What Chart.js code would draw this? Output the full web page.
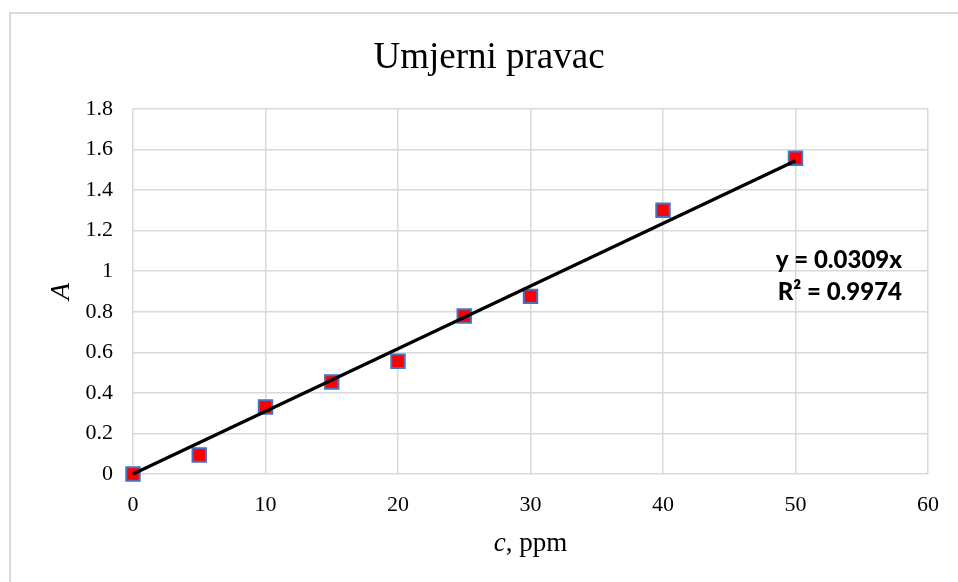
<!DOCTYPE html>
<html><head><meta charset="utf-8">
<script src="https://cdn.jsdelivr.net/npm/chart.js@4"></script>
<style>html,body{margin:0;padding:0;background:#fff;overflow:hidden}#wrap{width:958px;height:582px;position:relative}</style>
</head><body><div id="wrap"><canvas id="c" width="958" height="582"></canvas></div>
<script>
const concentration = [0, 5, 10, 15, 20, 25, 30, 40, 50];
const absorbance = [0, 0.094, 0.33, 0.454, 0.556, 0.779, 0.876, 1.301, 1.557];
const trendX = [0, 50];
const trendY = [0, 1.545];
const chartTitle = 'Umjerni pravac';
const equationLines = ['y = 0.0309x', 'R² = 0.9974'];
const xTitleItalic = 'c';
const xTitleRest = ', ppm';
const yTitle = 'A';

const serif = '"Liberation Serif", "Times New Roman", serif';
const eqFont = '900 24px Lato, "Liberation Sans", sans-serif';

const decor = {
  id: 'decor',
  afterDraw(chart) {
    const ctx = chart.ctx, a = chart.chartArea;
    ctx.save();
    // outer frame (cropped at right and bottom)
    ctx.strokeStyle = '#d9d9d9'; ctx.lineWidth = 2;
    ctx.beginPath();
    ctx.moveTo(10, chart.height); ctx.lineTo(10, 13); ctx.lineTo(chart.width, 13);
    ctx.stroke();
    // title
    ctx.fillStyle = '#000';
    ctx.textAlign = 'center'; ctx.textBaseline = 'alphabetic';
    ctx.font = '37px ' + serif;
    ctx.fillText(chartTitle, 489, 68);
    // x title
    ctx.font = 'italic 27px ' + serif;
    const w1 = ctx.measureText(xTitleItalic).width;
    ctx.font = '27px ' + serif;
    const w2 = ctx.measureText(xTitleRest).width;
    const x0 = (a.left + a.right) / 2 - (w1 + w2) / 2;
    ctx.textAlign = 'left';
    ctx.font = 'italic 27px ' + serif;
    ctx.fillText(xTitleItalic, x0, 551);
    ctx.font = '27px ' + serif;
    ctx.fillText(xTitleRest, x0 + w1, 551);
    // y title
    ctx.save();
    ctx.translate(69, (a.top + a.bottom) / 2);
    ctx.rotate(-Math.PI / 2);
    ctx.textAlign = 'center';
    ctx.font = 'italic 28px ' + serif;
    ctx.fillText(yTitle, 0, 0);
    ctx.restore();
    // equation
    ctx.textAlign = 'right';
    ctx.font = eqFont;
    ctx.fillText(equationLines[0], 902, 268);
    ctx.fillText(equationLines[1], 902, 300);
    ctx.restore();
  }
};

new Chart(document.getElementById('c'), {
  type: 'scatter',
  data: {
    datasets: [
      {
        label: 'Trend',
        type: 'line',
        data: trendX.map((x, i) => ({x: x, y: trendY[i]})),
        borderColor: '#000', borderWidth: 3.2, pointRadius: 0, fill: false,
        clip: false, order: 0
      },
      {
        label: 'A',
        data: concentration.map((x, i) => ({x: x, y: absorbance[i]})),
        pointStyle: 'rect', pointRadius: 9.5, pointHoverRadius: 9.5,
        backgroundColor: '#ff0000', borderColor: '#4472c4', borderWidth: 2,
        clip: false, order: 1
      }
    ]
  },
  options: {
    responsive: false, animation: false, devicePixelRatio: 1,
    layout: { padding: { left: 0, right: 30, top: 109, bottom: 0 } },
    plugins: { legend: { display: false }, tooltip: { enabled: false }, title: { display: false } },
    scales: {
      x: {
        type: 'linear', min: 0, max: 60,
        ticks: { stepSize: 10, color: '#000', font: { family: serif, size: 22 }, padding: 18 },
        grid: { color: '#d9d9d9', lineWidth: 1.5, drawTicks: false },
        border: { display: false },
        afterFit(s) { s.height = 108; }
      },
      y: {
        type: 'linear', min: 0, max: 1.8,
        ticks: { stepSize: 0.2, color: '#000', font: { family: serif, size: 22 }, padding: 20,
          callback: v => String(Math.round(v * 10) / 10) },
        grid: { color: '#d9d9d9', lineWidth: 1.5, drawTicks: false },
        border: { display: false },
        afterFit(s) { s.width = 133; }
      }
    }
  },
  plugins: [decor]
});
</script></body></html>
